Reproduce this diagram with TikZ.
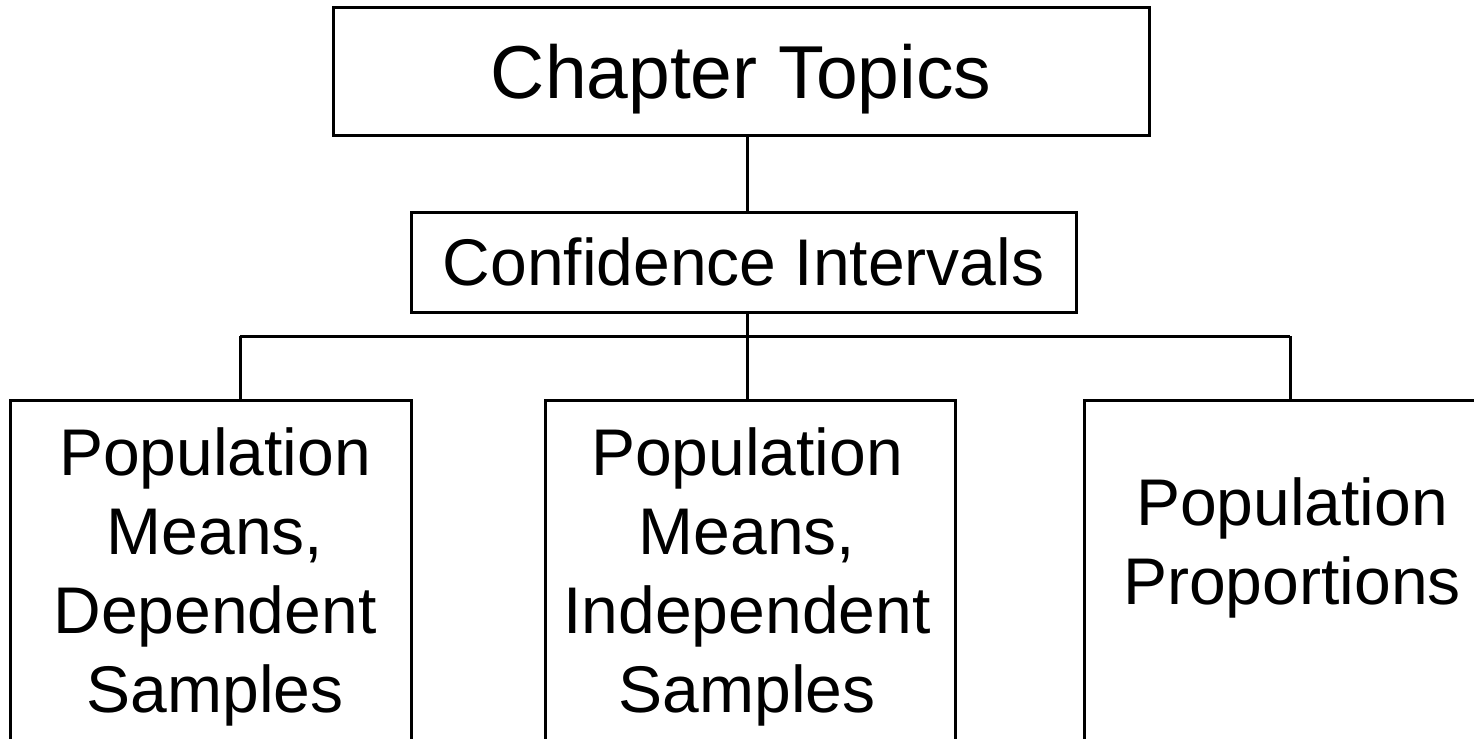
\documentclass[tikz,border=0pt]{standalone}
\usepackage{fontspec}
\setmainfont{Liberation Sans}
\usepackage{tikz}
\usetikzlibrary{positioning}

\begin{document}
\begin{tikzpicture}[
   x=0.5pt, y=-0.5pt,
   box/.style={draw, line width=1.5pt, align=center, inner sep=0pt,
         text depth=0pt},
   topicbox/.style={draw, line width=1.5pt, inner sep=0pt,
         minimum height=200pt},
   lbl/.style={align=center, inner sep=0pt, anchor=north,
         font=\fontsize{33}{39.5}\selectfont},
   conn/.style={line width=1.5pt},
  ]
  \useasboundingbox (0,0) rectangle (1474,739);
  \clip (0,0) rectangle (1474,739);

  \node[box, minimum width=408pt, minimum height=64pt, text height=27pt,
        font=\fontsize{37.5}{45}\selectfont] (chap) at (741,71) {Chapter Topics};
  \node[box, minimum width=332.5pt, minimum height=50pt, text height=23.8pt,
        font=\fontsize{33}{40}\selectfont] (ci) at (743.5,262) {Confidence Intervals};

  % bottom row, running past the page edge
  \node[topicbox, minimum width=200.5pt] (dep) at (210.5,600) {};
  \node[topicbox, minimum width=205pt] (indep) at (750,600) {};
  \node[topicbox, minimum width=207.5pt] (prop) at (1292,600) {};

  \node[lbl] (depTxt) at (215,427) {Population\\Means,\\Dependent\\Samples};
  \node[lbl] (indepTxt) at (747,427) {Population\\Means,\\Independent\\Samples};
  \node[lbl] (propTxt) at (1292,477) {Population\\Proportions};

  \coordinate (hub) at (747,336);
  \coordinate (busL) at (240,336);
  \coordinate (busR) at (1290,336);

  \draw[conn] (chap.south -| hub) -- (ci.north -| hub);
  \draw[conn] (ci.south -| hub) -- (hub);
  \draw[conn] (busL) -- (busR);
  \draw[conn] (busL) -- (busL |- dep.north);
  \draw[conn] (hub) -- (hub |- indep.north);
  \draw[conn] (busR) -- (busR |- prop.north);
 \end{tikzpicture}
\end{document}
